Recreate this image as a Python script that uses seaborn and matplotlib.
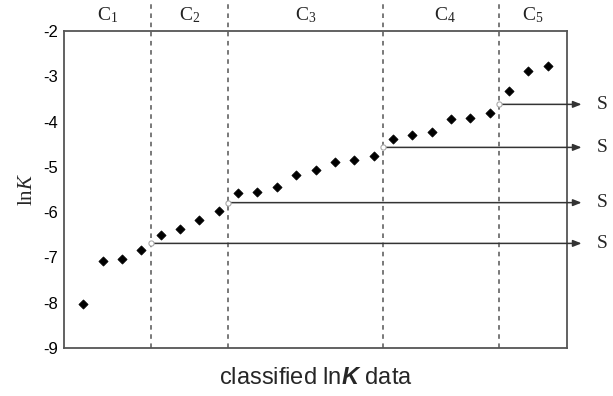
import matplotlib
matplotlib.use("Agg")
import matplotlib.pyplot as plt
import seaborn as sns
import pandas as pd
import numpy as np

# Data
order = list(range(1, 26))
lnK = [-8.03, -7.08, -7.04, -6.84,
       -6.50, -6.38, -6.17, -5.97,
       -5.58, -5.55, -5.44, -5.19, -5.07, -4.89, -4.84, -4.77,
       -4.38, -4.29, -4.23, -3.94, -3.92, -3.80,
       -3.32, -2.88, -2.77]
bound_pos = [4.5, 8.5, 16.5, 22.5]
bound_val = [-6.69, -5.79, -4.57, -3.62]
class_labels = ["C$_1$", "C$_2$", "C$_3$", "C$_4$", "C$_5$"]
class_pos = [2.25, 6.5, 12.5, 19.7, 24.25]
yticks = [-9, -8, -7, -6, -5, -4, -3, -2]

sns.set_style("white")
plt.rcParams['font.family'] = ['Liberation Sans', 'DejaVu Sans']
plt.rcParams['mathtext.fontset'] = 'custom'
plt.rcParams['mathtext.rm'] = 'Liberation Serif'
plt.rcParams['mathtext.it'] = 'Liberation Serif:italic'
plt.rcParams['mathtext.bf'] = 'Liberation Sans:bold'
plt.rcParams['mathtext.bfit'] = 'Liberation Sans:italic:bold'

fig = plt.figure(figsize=(6.13, 3.96), dpi=100)
ax = fig.add_axes([0.1044, 0.1212, 0.8206, 0.8005])

df = pd.DataFrame({"order": order, "lnK": lnK})
sns.scatterplot(data=df, x="order", y="lnK", ax=ax, marker="D", s=22,
                color="black", edgecolor="black", linewidth=0.5, zorder=4)

ax.set_xlim(0, 26)
ax.set_ylim(-9, -2)
ax.set_yticks(yticks)
ax.set_yticklabels([str(t) for t in yticks], fontsize=12)
ax.set_xticks([])

for s in ax.spines.values():
    s.set_color("#555555")
    s.set_linewidth(1.3)
ax.tick_params(axis="y", direction="out", length=3, width=0.8, color="#888888",
               pad=1, labelcolor="black")

# dashed class boundaries
for xb in bound_pos:
    ax.axvline(xb, ymin=0, ymax=1.1, color="#555555", linestyle=(0, (3, 3)),
               linewidth=1.1, clip_on=False, zorder=2)

# boundary circles and arrows
sns.scatterplot(x=bound_pos, y=bound_val, ax=ax, marker="o", s=14,
                facecolor="white", edgecolor="#aaaaaa", linewidth=0.8, zorder=5)
for xb, yb in zip(bound_pos, bound_val):
    ax.annotate("", xy=(26.75, yb), xytext=(xb, yb),
                arrowprops=dict(arrowstyle="-|>,head_length=0.5,head_width=0.2",
                                color="#333333", lw=1.1, shrinkA=0, shrinkB=0),
                annotation_clip=False, zorder=3)
    ax.text(27.55, yb, "S", fontsize=14, family=["Liberation Serif"],
            va="center", ha="left", clip_on=False)

# class labels
for lab, xp in zip(class_labels, class_pos):
    ax.text(xp, 1.05, lab, transform=ax.get_xaxis_transform(), ha="center",
            va="center", fontsize=14, family=["Liberation Serif"], color="#222222")

ax.set_ylabel("ln$\\mathit{K}$", fontsize=15, family=["Liberation Serif"], labelpad=5)
ax.set_xlabel("classified ln$\\boldsymbol{K}$ data", fontsize=17, labelpad=14)

fig.savefig("out.png", dpi=100)
